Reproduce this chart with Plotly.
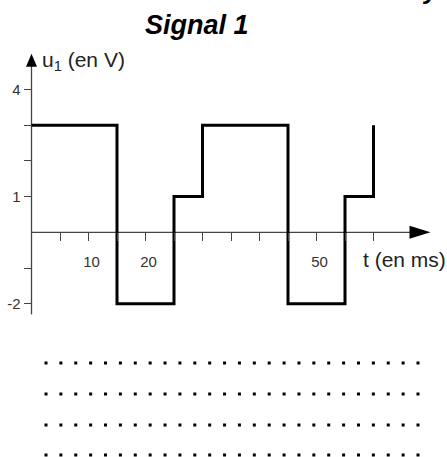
import plotly.graph_objects as go

# signal u1(t), step function (value holds until next time)
t_ms = [0, 15, 25, 30, 45, 55, 60]
u_volts = [3, -2, 1, 3, -2, 1, 3]

x_ticks = [5, 10, 15, 20, 25, 30, 35, 40, 45, 50, 55, 60]
x_labels = {10: "10", 20: "20", 50: "50"}
y_ticks = [-2, -1, 1, 2, 3, 4]
y_labels = {-2: "-2", 1: "1", 4: "4"}

T_END = 70      # tip of the time axis
U_TOP = 5       # tip of the voltage axis
U_BOTTOM = -2.3

W, H = 447, 457
# pixel placement of the origin and scale
X0_PX, Y0_PX = 31.5, 232.3
PX_PER_MS, PX_PER_V = 5.7, 35.7

x_range = [-X0_PX / PX_PER_MS, (W - X0_PX) / PX_PER_MS]
y_range = [(Y0_PX - H) / PX_PER_V, Y0_PX / PX_PER_V]

AXIS_COLOR = "#444444"
FONT = "Liberation Sans, Arial, sans-serif"

fig = go.Figure()

fig.add_trace(go.Scatter(
    x=t_ms, y=u_volts, mode="lines",
    line=dict(shape="hv", color="black", width=3),
    hoverinfo="skip", showlegend=False,
))

# axis lines
fig.add_shape(type="line", x0=0, x1=0, y0=U_BOTTOM, y1=U_TOP - 0.3,
              line=dict(color=AXIS_COLOR, width=1.3), layer="below")
fig.add_shape(type="line", x0=0, x1=T_END - 3, y0=0, y1=0,
              line=dict(color=AXIS_COLOR, width=1.3), layer="below")

# arrow heads (pixel sized, anchored on the axis tips)
fig.add_shape(type="path", xsizemode="pixel", ysizemode="pixel",
              xanchor=T_END, yanchor=0,
              path="M-21,-6.5 L0,0 L-21,6.5 Z",
              fillcolor="black", line=dict(width=0))
fig.add_shape(type="path", xsizemode="pixel", ysizemode="pixel",
              xanchor=0, yanchor=U_TOP,
              path="M-5.5,-13 L0,0 L5.5,-13 Z",
              fillcolor="black", line=dict(width=0))

# answer lines (dotted)
for row_px in [363, 394, 425, 455]:
    fig.add_shape(type="line", xref="paper", yref="paper",
                  x0=44.5 / W, x1=419.5 / W,
                  y0=1 - row_px / H, y1=1 - row_px / H,
                  line=dict(color="black", width=3, dash="3px,11.88px"))

fig.add_annotation(
    text="u<sub>1</sub> (en V)", x=0, y=U_TOP, xanchor="left", yanchor="middle",
    xshift=8, yshift=-7, showarrow=False,
    font=dict(family=FONT, size=21, color="#222222"),
)
fig.add_annotation(
    text="t (en ms)", x=T_END, y=0, xanchor="right", yanchor="middle",
    xshift=17, yshift=-27, showarrow=False,
    font=dict(family=FONT, size=21, color="#222222"),
)
fig.add_annotation(
    text="<b><i>Signal 1</i></b>", xref="paper", yref="paper",
    x=197 / W, y=1 - 25 / H, xanchor="center", yanchor="middle",
    showarrow=False, font=dict(family=FONT, size=27, color="black"),
)
# tail of a letter cut off at the top edge
fig.add_annotation(
    text="<b><i>y</i></b>", xref="paper", yref="paper",
    x=431 / W, y=1 - 7 / H, xanchor="center", yanchor="bottom",
    showarrow=False, font=dict(family=FONT, size=26, color="black"),
)

tick_font = dict(family=FONT, size=15, color="#333333")
fig.update_layout(
    width=W, height=H,
    margin=dict(l=0, r=0, t=0, b=0, autoexpand=False),
    paper_bgcolor="white", plot_bgcolor="white",
    showlegend=False,
    xaxis=dict(
        range=x_range, anchor="free", automargin=False,
        position=(0 - y_range[0]) / (y_range[1] - y_range[0]),
        showgrid=False, zeroline=False, showline=False,
        tickmode="array", tickvals=x_ticks,
        ticktext=[x_labels.get(v, "") for v in x_ticks],
        ticks="outside", ticklen=8, tickwidth=1.3, tickcolor=AXIS_COLOR,
        tickfont=tick_font, ticklabelshift=3, ticklabelstandoff=8,
    ),
    yaxis=dict(
        range=y_range, anchor="free", automargin=False,
        position=(0 - x_range[0]) / (x_range[1] - x_range[0]),
        showgrid=False, zeroline=False, showline=False,
        tickmode="array", tickvals=y_ticks,
        ticktext=[y_labels.get(v, "") for v in y_ticks],
        ticks="outside", ticklen=8, tickwidth=1.3, tickcolor=AXIS_COLOR,
        tickfont=tick_font,
    ),
)

# the page body has a default 8px margin; drop it so the figure fills the window
fig.write_html("out.html", config={"displayModeBar": False},
               post_script="document.body.style.margin = '0';")
